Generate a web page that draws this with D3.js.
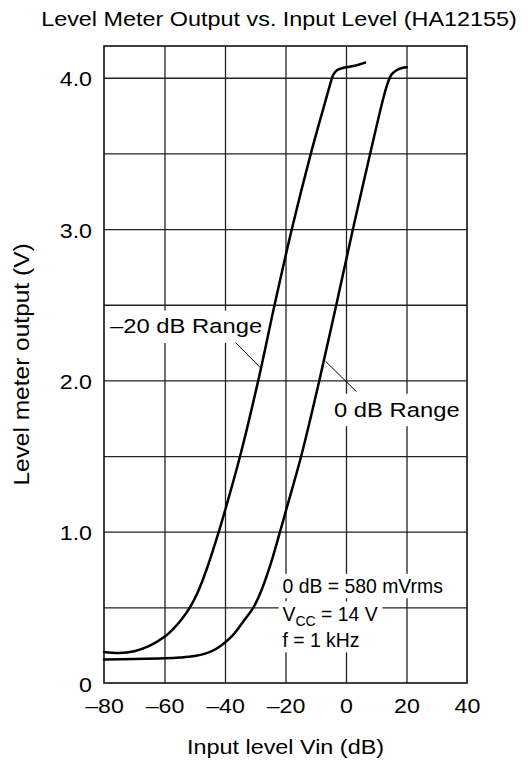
<!DOCTYPE html>
<html>
<head>
<meta charset="utf-8">
<script src="https://cdn.jsdelivr.net/npm/d3@7"></script>
<style>
  html, body { margin: 0; padding: 0; background: #fff; }
  svg { display: block; font-family: "Liberation Sans", Arial, Helvetica, sans-serif; }
</style>
</head>
<body>
<svg id="chart" width="528" height="765"></svg>
<script>
// ---- data ----
const title = "Level Meter Output vs. Input Level (HA12155)";
const xLabel = "Input level Vin (dB)";
const yLabel = "Level meter output (V)";
const xTicks = [-80, -60, -40, -20, 0, 20, 40];
const yTicks = [0, 1, 2, 3, 4];
const yGrid = [0.5, 1, 1.5, 2, 2.5, 3, 3.5, 4];

// -20 dB Range curve
const inputMinus20 = [-80, -75, -70, -65, -60, -57, -54, -51.6, -49, -46, -42.2, -39.7, -35.0, -29.0, -23.6, -17.9, -11.6, -6.6, -5.2, -4.2, -3.0, 0, 3, 6.3];
const outputMinus20 = [0.205, 0.198, 0.21, 0.245, 0.305, 0.36, 0.43, 0.50, 0.60, 0.755, 0.99, 1.16, 1.5, 2.0, 2.5, 3.0, 3.5, 3.86, 3.96, 4.02, 4.05, 4.07, 4.08, 4.10];

// 0 dB Range curve
const input0 = [-80, -70, -60, -55, -50, -46, -43, -40, -37, -34, -30.6, -28, -25, -21.8, -19.6, -14.8, -8.8, -3.2, 2.3, 8.0, 12.4, 13.7, 15.0, 16.7, 18.5, 20.1];
const output0 = [0.155, 0.158, 0.163, 0.168, 0.178, 0.197, 0.225, 0.268, 0.325, 0.405, 0.50, 0.61, 0.78, 1.0, 1.157, 1.5, 2.0, 2.5, 3.0, 3.5, 3.87, 3.96, 4.02, 4.05, 4.065, 4.07];

const conditions = ["0 dB = 580 mVrms", "V|CC| = 14 V", "f = 1 kHz"];

// ---- layout ----
const svg = d3.select("#chart");
const pLeft = 104, pRight = 467, pTop = 46, pBottom = 683;
const x = d3.scaleLinear().domain([-80, 40]).range([pLeft, pRight]);
const y = d3.scaleLinear().domain([0, 4.21]).range([pBottom, pTop]);

const SX = 1.16; // horizontal stretch of tick text in reference

// grid
const grid = svg.append("g");
grid.append("g").attr("transform", `translate(0,${pBottom})`)
  .call(d3.axisBottom(x).tickValues(xTicks.slice(1, -1)).tickSize(-(pBottom - pTop)).tickFormat(""))
  .call(g => g.select(".domain").remove())
  .selectAll("line").attr("stroke", "#222").attr("stroke-width", 1.3);
grid.append("g").attr("transform", `translate(${pLeft},0)`)
  .call(d3.axisLeft(y).tickValues(yGrid).tickSize(-(pRight - pLeft)).tickFormat(""))
  .call(g => g.select(".domain").remove())
  .selectAll("line").attr("stroke", "#222").attr("stroke-width", 1.3);

const boxLayer = svg.append("g");
const curveLayer = svg.append("g");
const textLayer = svg.append("g");

function boxedText(str, px, py, fs, sx, pad) {
  const g = textLayer.append("g").attr("transform", `translate(${px},${py}) scale(${sx},1)`);
  const t = g.append("text").attr("font-size", fs).attr("fill", "#000").text(str);
  const b = t.node().getBBox();
  boxLayer.append("rect")
    .attr("x", px + (b.x - pad[0]) * sx).attr("y", py + b.y - pad[1])
    .attr("width", (b.width + pad[0] * 2) * sx).attr("height", b.height + pad[1] * 2)
    .attr("fill", "#fff");
  return t;
}

// annotations: curve labels
boxedText("\u201320 dB Range", x(-78.0), y(2.31), 19.5, 1.22, [3, 5]);
boxedText("0 dB Range", x(-3.97), y(1.76), 19.5, 1.22, [3, 5]);

// leader lines
const leaders = [
  [[-36.5, 2.25], [-28.1, 2.08]],
  [[-6.7, 2.125], [3.5, 1.925]]
];
textLayer.selectAll("line.leader").data(leaders).join("line")
  .attr("class", "leader")
  .attr("x1", d => x(d[0][0])).attr("y1", d => y(d[0][1]))
  .attr("x2", d => x(d[1][0])).attr("y2", d => y(d[1][1]))
  .attr("stroke", "#000").attr("stroke-width", 1);

// conditions block
const condY = [0.594, 0.412, 0.236];
conditions.forEach((c, i) => {
  const px = x(-21.0), py = y(condY[i]);
  const sx = 0.97;
  const g = textLayer.append("g").attr("transform", `translate(${px},${py}) scale(${sx},1)`);
  const t = g.append("text").attr("font-size", 20).attr("fill", "#000");
  const parts = c.split("|");
  if (parts.length === 3) {
    t.append("tspan").text(parts[0]);
    t.append("tspan").attr("font-size", 14.5).attr("dy", 5).text(parts[1]);
    t.append("tspan").attr("dy", -5).text(parts[2]);
  } else {
    t.text(c);
  }
  const b = t.node().getBBox();
  boxLayer.append("rect")
    .attr("x", px + (b.x - 4) * sx).attr("y", py + b.y - 1)
    .attr("width", (b.width + 8) * sx).attr("height", b.height + 2)
    .attr("fill", "#fff");
});

// curves
const line = d3.line().x(d => x(d[0])).y(d => y(d[1])).curve(d3.curveCatmullRom.alpha(0.5));
const series = [
  d3.zip(inputMinus20, outputMinus20),
  d3.zip(input0, output0)
];
curveLayer.selectAll("path").data(series).join("path")
  .attr("d", line)
  .attr("fill", "none").attr("stroke", "#000").attr("stroke-width", 2.5)
  .attr("stroke-linejoin", "round").attr("stroke-linecap", "round");

// frame
svg.append("rect").attr("x", pLeft).attr("y", pTop)
  .attr("width", pRight - pLeft).attr("height", pBottom - pTop)
  .attr("fill", "none").attr("stroke", "#111").attr("stroke-width", 1.6);

// axes tick labels
const fmtX = d => (d < 0 ? "\u2013" + Math.abs(d) : String(d));
const fmtY = d => (d === 0 ? "0" : d3.format(".1f")(d));

svg.append("g").attr("transform", `translate(0,${pBottom})`)
  .call(d3.axisBottom(x).tickValues(xTicks).tickSize(0).tickPadding(15.5).tickFormat(fmtX))
  .call(g => g.select(".domain").remove())
  .selectAll("text")
  .attr("font-size", 20).attr("font-family", "Liberation Sans, Arial, sans-serif")
  .attr("fill", "#000").attr("transform", `scale(${SX},1)`);

svg.append("g").attr("transform", `translate(${pLeft},0)`)
  .call(d3.axisLeft(y).tickValues(yTicks).tickSize(0).tickPadding(12 / SX).tickFormat(fmtY))
  .call(g => g.select(".domain").remove())
  .selectAll("text")
  .attr("font-size", 20).attr("font-family", "Liberation Sans, Arial, sans-serif")
  .attr("fill", "#000").attr("dy", "0.4em")
  .attr("transform", `scale(${SX},1)`);

// titles
svg.append("text").attr("transform", `translate(279,26.3) scale(1.17,1)`)
  .attr("text-anchor", "middle").attr("font-size", 20).attr("fill", "#000").text(title);

svg.append("text").attr("transform", `translate(${(pLeft + pRight) / 2},754) scale(1.2,1)`)
  .attr("text-anchor", "middle").attr("font-size", 19.5).attr("fill", "#000").text(xLabel);

svg.append("text").attr("transform", `translate(29.3,${(pTop + pBottom) / 2}) rotate(-90) scale(1,0.91)`)
  .attr("text-anchor", "middle").attr("font-size", 24.5).attr("fill", "#000").text(yLabel);
</script>
</body>
</html>
